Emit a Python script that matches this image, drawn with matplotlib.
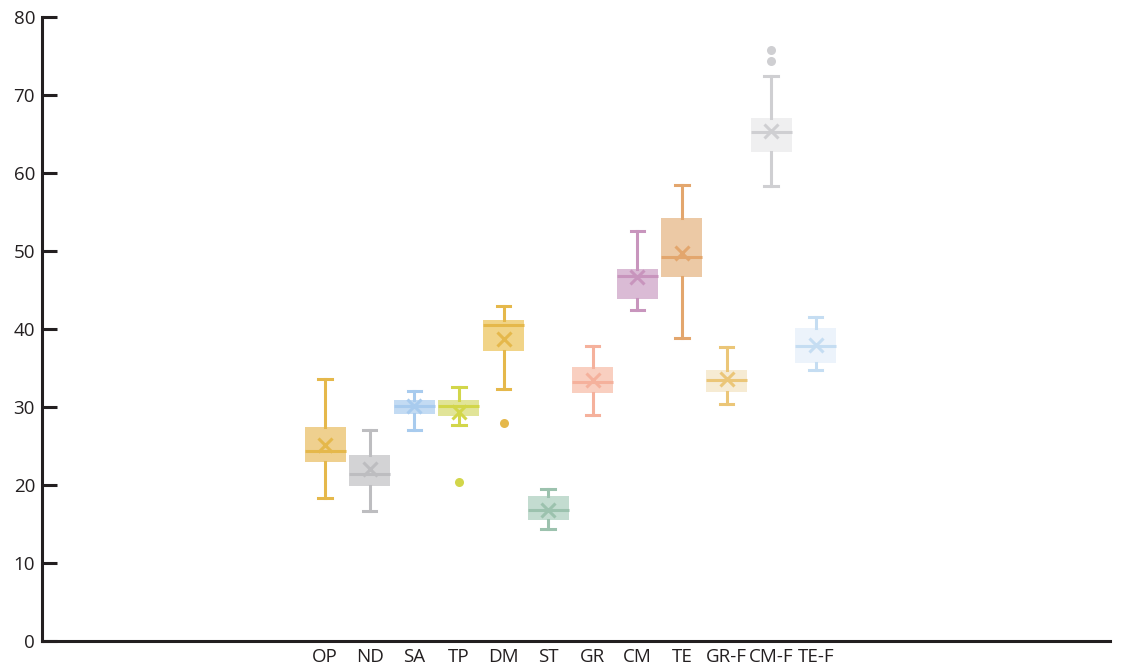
import matplotlib
matplotlib.use('Agg')
import matplotlib.pyplot as plt

# box statistics per group
labels = ['OP', 'ND', 'SA', 'TP', 'DM', 'ST', 'GR', 'CM', 'TE', 'GR-F', 'CM-F', 'TE-F']
whis_lo = [18.3, 16.7, 27.1, 27.7, 32.3, 14.3, 29.0, 42.4, 38.8, 30.4, 58.3, 34.7]
q1 = [23.0, 19.9, 29.1, 28.8, 37.2, 15.5, 31.8, 43.9, 46.7, 31.9, 62.7, 35.7]
med = [24.4, 21.4, 30.1, 30.1, 40.5, 16.8, 33.2, 46.8, 49.2, 33.5, 65.2, 37.8]
q3 = [27.4, 23.8, 30.9, 30.9, 41.2, 18.6, 35.1, 47.7, 54.2, 34.8, 67.1, 40.1]
whis_hi = [33.6, 27.1, 32.0, 32.6, 42.9, 19.5, 37.8, 52.5, 58.4, 37.7, 72.4, 41.6]
means = [25.1, 22.1, 30.1, 29.4, 38.7, 16.8, 33.4, 46.7, 49.8, 33.6, 65.4, 37.9]
outliers = [[], [], [], [20.35], [28.0], [], [], [], [], [], [74.3, 75.8], []]

line_colors = ['#e5b84b', '#bdbdc0', '#a8cbee', '#d2d64a', '#e5b84b', '#9cc2ae',
               '#f5b19c', '#c895bd', '#e3a66d', '#ebc678', '#cfcfd2', '#c5ddf2']
fill_colors = ['#efd08f', '#d3d3d5', '#c3dbf3', '#e1e498', '#f1d488', '#c3dcd0',
               '#f9cfc0', '#dabbd5', '#ecc9a5', '#f6ebd3', '#efeff0', '#ecf3fb']

plt.rcParams['font.family'] = ['Open Sans', 'DejaVu Sans']

fig = plt.figure(figsize=(11.32, 6.71), dpi=100)
ax = fig.add_axes([0.0371, 0.0447, 0.9435, 0.93])

for i in range(len(labels)):
    stats = [{
        'label': labels[i],
        'whislo': whis_lo[i], 'q1': q1[i], 'med': med[i],
        'q3': q3[i], 'whishi': whis_hi[i], 'mean': means[i],
        'fliers': outliers[i],
    }]
    lc = line_colors[i]
    ax.bxp(stats, positions=[i], widths=0.92, patch_artist=True,
           showmeans=True, showfliers=True,
           boxprops=dict(facecolor=fill_colors[i], edgecolor='none', linewidth=0),
           medianprops=dict(color=lc, linewidth=2.2),
           whiskerprops=dict(color=lc, linewidth=2.2),
           capprops=dict(color=lc, linewidth=2.2),
           capwidths=0.3,
           meanprops=dict(marker='x', markeredgecolor=lc, markersize=9.5,
                          markeredgewidth=2.2),
           flierprops=dict(marker='o', markerfacecolor=lc, markeredgecolor='none',
                           markersize=6.5))

ax.set_xlim(-6.35, 17.6)
ax.set_ylim(0, 80)
ax.set_yticks(range(0, 81, 10))
ax.set_xticks(range(len(labels)))
ax.set_xticklabels(labels)

for s in ['top', 'right']:
    ax.spines[s].set_visible(False)
for s in ['left', 'bottom']:
    ax.spines[s].set_color('#231f20')
    ax.spines[s].set_linewidth(2.2)

ax.tick_params(axis='y', direction='in', length=11, width=2.2, color='#231f20',
               labelsize=13.5, labelcolor='#231f20', pad=5)
ax.tick_params(axis='x', length=0, labelsize=13.5, labelcolor='#231f20', pad=5)

fig.savefig('out.png', dpi=100)
